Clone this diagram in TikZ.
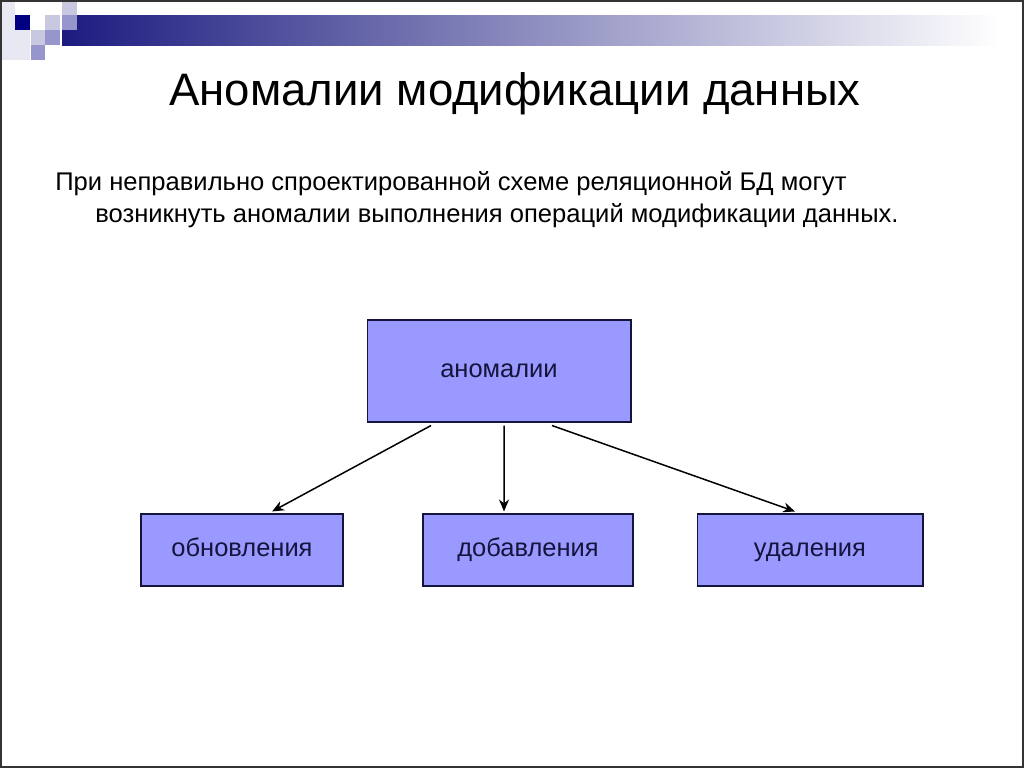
\documentclass[tikz,border=0pt]{standalone}
\usepackage{fontspec}
\setmainfont{Liberation Sans}
\usetikzlibrary{positioning, arrows.meta}
\definecolor{boxfill}{RGB}{153,153,255}
\definecolor{boxtext}{RGB}{20,20,60}
\definecolor{navy}{RGB}{0,0,128}
\definecolor{barblue}{RGB}{28,28,128}
\definecolor{sqlight}{RGB}{200,200,225}
\definecolor{sqmid}{RGB}{150,150,205}
\definecolor{sqfaint}{RGB}{232,232,242}
\tikzset{
    x=0.02cm, y=-0.02cm, % one unit is one pixel of the slide
    >={Stealth[length=2.4mm,width=2mm]}, % small filled arrowheads
    anomaly/.style={draw=boxtext, line width=0.6pt, fill=boxfill,
        text=boxtext, font=\fontsize{14.5}{17}\selectfont,
        text height=1.45ex, text depth=0.1ex}, % blue boxes, common baseline
    link/.style={->, line width=0.85pt}, % connectors between boxes
}
\begin{document}
\begin{tikzpicture}
    \useasboundingbox (0,0) rectangle (1024,768);
    \fill[white] (0,0) rectangle (1024,768);

    % slide decoration
    \fill[sqfaint] (0,0) rectangle (15,60);
    \fill[sqfaint] (15,30) rectangle (30,60);
    \shade[left color=barblue, right color=white] (62,15) rectangle (1000,45);
    \fill[navy] (15,15) rectangle (30,30);
    \fill[sqlight] (45,15) rectangle (60,30);
    \fill[sqlight] (62,0) rectangle (77,15);
    \fill[sqmid] (62,15) rectangle (77,30);
    \fill[sqlight] (31,30) rectangle (45,45);
    \fill[sqmid] (45,30) rectangle (60,45);
    \fill[sqmid] (31,45) rectangle (45,60);
    \draw[line width=0.04cm, black!80] (1,1) rectangle (1023,767);

    % title and text
    \node[anchor=base] (title) at (515,105)
        {\fontsize{25.9}{30}\selectfont Аномалии модификации данных};
    \node[anchor=base west, inner sep=0pt] (intro1) at (55,190)
        {\fontsize{14.55}{17}\selectfont При неправильно спроектированной схеме реляционной БД могут};
    \node[anchor=base west, inner sep=0pt] (intro2) at (95,222)
        {\fontsize{14.55}{17}\selectfont возникнуть аномалии выполнения операций модификации данных.};

    % boxes
    \node[anomaly, minimum width=5.28cm, minimum height=2.04cm] (anom) at (499,371) {аномалии};
    \node[anomaly, minimum width=4.04cm, minimum height=1.44cm] (upd) at (242,550) {обновления};
    \node[anomaly, minimum width=4.2cm, minimum height=1.44cm] (ins) at (528,550) {добавления};
    \node[anomaly, minimum width=4.52cm, minimum height=1.44cm] (del) at (810,550) {удаления};

    \path[link]
        ([xshift=-1.36cm,yshift=-0.06cm]anom.south) edge ([xshift=0.6cm,yshift=0.04cm]upd.north)
        ([xshift=0.1cm,yshift=-0.06cm]anom.south) edge ([xshift=-0.48cm,yshift=0.04cm]ins.north)
        ([xshift=1.06cm,yshift=-0.06cm]anom.south) edge ([xshift=-0.3cm,yshift=0.04cm]del.north);
\end{tikzpicture}
\end{document}
